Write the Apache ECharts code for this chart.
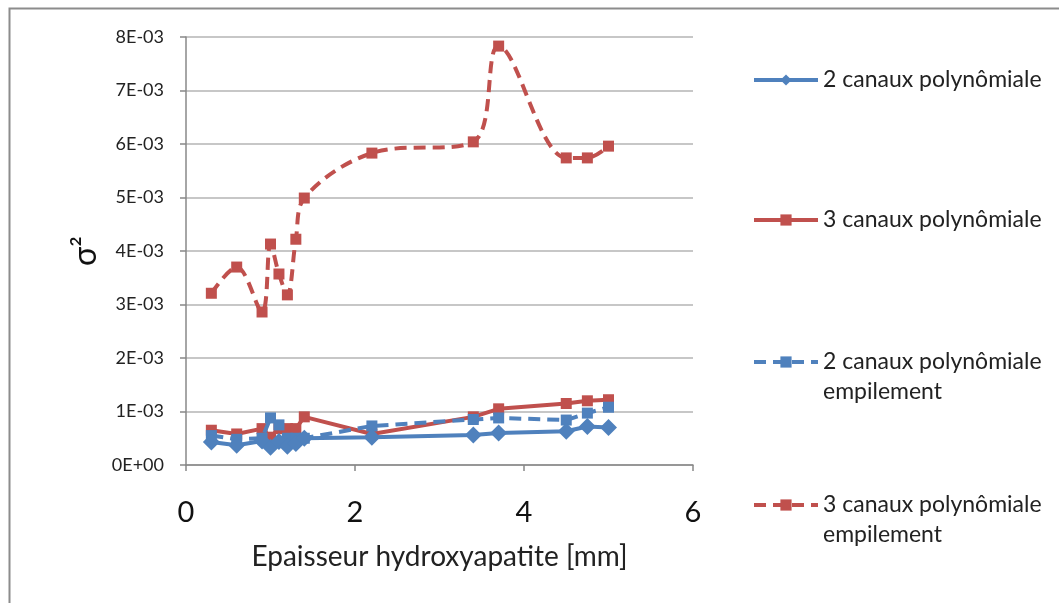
<!DOCTYPE html>
<html>
<head>
<meta charset="utf-8">
<script src="https://cdn.jsdelivr.net/npm/echarts@6/dist/echarts.min.js"></script>
<style>
  html, body { margin: 0; padding: 0; background: #fff; }
  #main { width: 1059px; height: 603px; }
</style>
</head>
<body>
<div id="main"></div>
<script>
// épaisseur en mm (mêmes abscisses pour les 4 séries)
const epaisseur = [0.3, 0.6, 0.9, 1.0, 1.1, 1.2, 1.3, 1.4, 2.2, 3.4, 3.7, 4.5, 4.75, 5.0];

const poly2 = [0.00043, 0.00037, 0.00045, 0.00033, 0.00044, 0.00035, 0.0004, 0.0005, 0.00052, 0.00056, 0.0006, 0.00063, 0.00072, 0.0007];
const poly3 = [0.00065, 0.00058, 0.00068, 0.00052, 0.00068, 0.00068, 0.00068, 0.0009, 0.00058, 0.0009, 0.00105, 0.00115, 0.0012, 0.00122];
const poly2Emp = [0.00055, 0.00048, 0.0005, 0.00088, 0.00075, 0.0005, 0.0005, 0.0005, 0.00073, 0.00085, 0.00088, 0.00084, 0.00097, 0.00108];
const poly3Emp = [0.00321, 0.0037, 0.00286, 0.00413, 0.00357, 0.00318, 0.00422, 0.00499, 0.00583, 0.00604, 0.00783, 0.00574, 0.00574, 0.00596];

const names = [
  '2 canaux polynômiale',
  '3 canaux polynômiale',
  '2 canaux polynômiale\nempilement',
  '3 canaux polynômiale\nempilement'
];

const BLUE = '#4F81BD';
const RED = '#C0504D';
const FONT = 'Lato, "Open Sans", sans-serif';

const pairs = ys => ys.map((y, i) => [epaisseur[i], y]);

// une légende par entrée ; pour les noms sur 2 lignes on ajoute une ligne vide
// au-dessus pour que le trait reste à la hauteur de la première ligne
function legendAt(name, top, twoLines) {
  return {
    data: [name],
    left: 752,
    top: top,
    padding: 0,
    itemWidth: 64,
    itemHeight: 14,
    lineStyle: { width: 4 },
    formatter: n => twoLines ? ' \n' + n : n,
    textStyle: { fontFamily: FONT, fontSize: 23, color: '#222', lineHeight: 30 },
    selectedMode: false
  };
}

const chart = echarts.init(document.getElementById('main'));

chart.setOption({
  animation: false,
  graphic: [{
    type: 'rect',
    shape: { x: 9.5, y: 8.5, width: 1200, height: 800 },
    style: { fill: 'none', stroke: '#8c8c8c', lineWidth: 2 },
    silent: true
  }],
  legend: [
    legendAt(names[0], 65, false),
    legendAt(names[1], 205, false),
    legendAt(names[2], 317, true),
    legendAt(names[3], 460, true)
  ],
  grid: { left: 186, right: 366, top: 37, bottom: 138 },
  xAxis: {
    type: 'value',
    min: 0, max: 6, interval: 2,
    name: 'Epaisseur hydroxyapatite [mm]',
    nameLocation: 'middle',
    nameGap: 78,
    nameTextStyle: { fontFamily: FONT, fontSize: 28, color: '#222' },
    axisLine: { lineStyle: { color: '#888', width: 1.5 } },
    axisTick: { show: true, length: 6, lineStyle: { color: '#888', width: 1.5 } },
    axisLabel: { fontFamily: FONT, fontSize: 29, color: '#111', margin: 33 },
    splitLine: { show: false }
  },
  yAxis: {
    type: 'value',
    min: 0, max: 0.008, interval: 0.001,
    name: 'σ²',
    nameLocation: 'middle',
    nameRotate: 90,
    nameGap: 84,
    nameTextStyle: { fontFamily: FONT, fontSize: 32, color: '#111' },
    axisLine: { show: true, lineStyle: { color: '#888', width: 1.5 } },
    axisTick: { show: true, length: 6, lineStyle: { color: '#888', width: 1.5 } },
    axisLabel: {
      fontFamily: FONT, fontSize: 18, color: '#222', margin: 22,
      formatter: v => v === 0 ? '0E+00' : Math.round(v * 1000) + 'E-03'
    },
    splitLine: { lineStyle: { color: '#b4b4b4', width: 1.5 } }
  },
  series: [
    {
      name: names[3], type: 'line', data: pairs(poly3Emp), smooth: 0.35,
      symbol: 'rect', symbolSize: 11, z: 2,
      itemStyle: { color: RED },
      lineStyle: { color: RED, width: 4, type: [12, 7] }
    },
    {
      name: names[1], type: 'line', data: pairs(poly3),
      symbol: 'rect', symbolSize: 11, z: 3,
      itemStyle: { color: RED },
      lineStyle: { color: RED, width: 4 }
    },
    {
      name: names[2], type: 'line', data: pairs(poly2Emp),
      symbol: 'rect', symbolSize: 11, z: 4,
      itemStyle: { color: BLUE },
      lineStyle: { color: BLUE, width: 4, type: [12, 7] }
    },
    {
      name: names[0], type: 'line', data: pairs(poly2),
      symbol: 'diamond', symbolSize: 17, z: 5,
      itemStyle: { color: BLUE },
      lineStyle: { color: BLUE, width: 4 }
    }
  ]
});
</script>
</body>
</html>
